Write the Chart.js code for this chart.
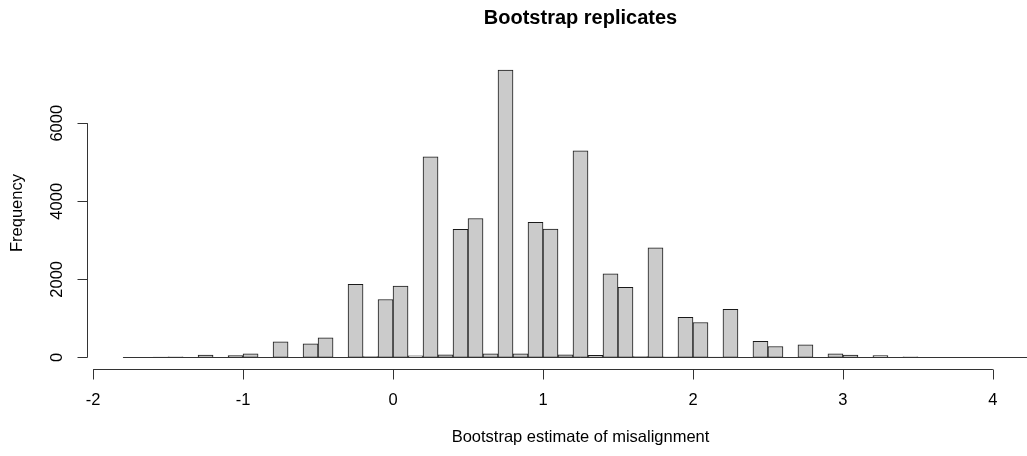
<!DOCTYPE html>
<html>
<head>
<meta charset="utf-8">
<script src="https://cdn.jsdelivr.net/npm/chart.js@4"></script>
<style>
  html, body { margin: 0; padding: 0; background: #fff; overflow: hidden; }
  #wrap { width: 1120px; height: 456px; }
</style>
</head>
<body>
<div id="wrap"><canvas id="hist"></canvas></div>
<script>
// histogram bins: left edge of each 0.1-wide bin and its count
const binWidth = 0.1;
const binStarts = [
  -1.8, -1.7, -1.6, -1.5, -1.4, -1.3, -1.2, -1.1, -1.0, -0.9,
  -0.8, -0.7, -0.6, -0.5, -0.4, -0.3, -0.2, -0.1, 0.0, 0.1,
  0.2, 0.3, 0.4, 0.5, 0.6, 0.7, 0.8, 0.9, 1.0, 1.1,
  1.2, 1.3, 1.4, 1.5, 1.6, 1.7, 1.8, 1.9, 2.0, 2.1,
  2.2, 2.3, 2.4, 2.5, 2.6, 2.7, 2.8, 2.9, 3.0, 3.1,
  3.2, 3.3, 3.4, 3.5, 3.6, 3.7, 3.8, 3.9, 4.0, 4.1, 4.2
];
const counts = [
  3, 0, 10, 15, 0, 60, 0, 50, 95, 0,
  400, 0, 350, 505, 0, 1870, 20, 1485, 1830, 40,
  5140, 70, 3280, 3560, 90, 7360, 95, 3460, 3285, 70,
  5290, 55, 2145, 1795, 25, 2805, 15, 1025, 895, 10,
  1230, 0, 410, 280, 0, 325, 0, 95, 60, 0,
  45, 0, 15, 5, 0, 5, 0, 3, 3, 2, 0
];
const xTicks = [-2, -1, 0, 1, 2, 3, 4];
const yTicks = [0, 2000, 4000, 6000];

const titleText = "Bootstrap replicates";
const xLabel = "Bootstrap estimate of misalignment";
const yLabel = "Frequency";

const FONT = "'Liberation Sans', Arial, Helvetica, sans-serif";

/* ============================
   R-STYLE AXES + TITLES
============================ */
const rAxes = {
  id: "rAxes",
  afterDraw(chart) {
    const { ctx, chartArea, scales: { x, y } } = chart;
    ctx.save();
    ctx.strokeStyle = "#333";
    ctx.fillStyle = "#000";
    ctx.lineWidth = 1;

    // zero-height bins show as a baseline
    const y0 = Math.round(y.getPixelForValue(0)) + 0.5;
    ctx.beginPath();
    ctx.moveTo(x.getPixelForValue(binStarts[0]), y0);
    ctx.lineTo(x.getPixelForValue(binStarts[binStarts.length - 1] + binWidth), y0);
    ctx.stroke();

    // x axis
    const ax = Math.round(chartArea.bottom) + 0.5;
    ctx.beginPath();
    ctx.moveTo(x.getPixelForValue(xTicks[0]), ax);
    ctx.lineTo(x.getPixelForValue(xTicks[xTicks.length - 1]), ax);
    xTicks.forEach(t => {
      const px = Math.round(x.getPixelForValue(t)) + 0.5;
      ctx.moveTo(px, ax);
      ctx.lineTo(px, ax + 10);
    });
    ctx.stroke();
    ctx.font = "16.5px " + FONT;
    ctx.textAlign = "center";
    ctx.textBaseline = "middle";
    xTicks.forEach(t => ctx.fillText(String(t), x.getPixelForValue(t), ax + 31));

    // y axis
    const ay = Math.round(chartArea.left) + 0.5;
    ctx.beginPath();
    ctx.moveTo(ay, y.getPixelForValue(yTicks[0]));
    ctx.lineTo(ay, y.getPixelForValue(yTicks[yTicks.length - 1]));
    yTicks.forEach(t => {
      const py = Math.round(y.getPixelForValue(t)) + 0.5;
      ctx.moveTo(ay, py);
      ctx.lineTo(ay - 10, py);
    });
    ctx.stroke();
    yTicks.forEach(t => {
      ctx.save();
      ctx.translate(ay - 30, y.getPixelForValue(t));
      ctx.rotate(-Math.PI / 2);
      ctx.fillText(String(t), 0, 0);
      ctx.restore();
    });

    const cx = (chartArea.left + chartArea.right) / 2;
    const cy = (chartArea.top + chartArea.bottom) / 2;

    // axis titles
    ctx.fillText(xLabel, cx, ax + 68);
    ctx.save();
    ctx.translate(17, cy);
    ctx.rotate(-Math.PI / 2);
    ctx.fillText(yLabel, 0, 0);
    ctx.restore();

    // main title
    ctx.font = "bold 20px " + FONT;
    ctx.fillText(titleText, cx, 18);
    ctx.restore();
  }
};

/* ============================
   CHART
============================ */
new Chart(document.getElementById("hist"), {
  type: "bar",
  data: {
    datasets: [{
      data: binStarts.map((s, i) => ({ x: s + binWidth / 2, y: counts[i] })),
      backgroundColor: "#cbcbcb",
      borderColor: "#1a1a1a",
      borderWidth: 1,
      borderSkipped: false,
      barPercentage: 1,
      categoryPercentage: 1
    }]
  },
  options: {
    responsive: true,
    maintainAspectRatio: false,
    animation: false,
    layout: { padding: { left: 86.5, right: 45.5, top: 57, bottom: 87 } },
    plugins: { legend: { display: false }, tooltip: { enabled: false } },
    scales: {
      x: { type: "linear", display: false, min: -2.044, max: 4.544, offset: false },
      y: { display: false, min: -296, max: 7696 }
    }
  },
  plugins: [rAxes]
});
</script>
</body>
</html>
